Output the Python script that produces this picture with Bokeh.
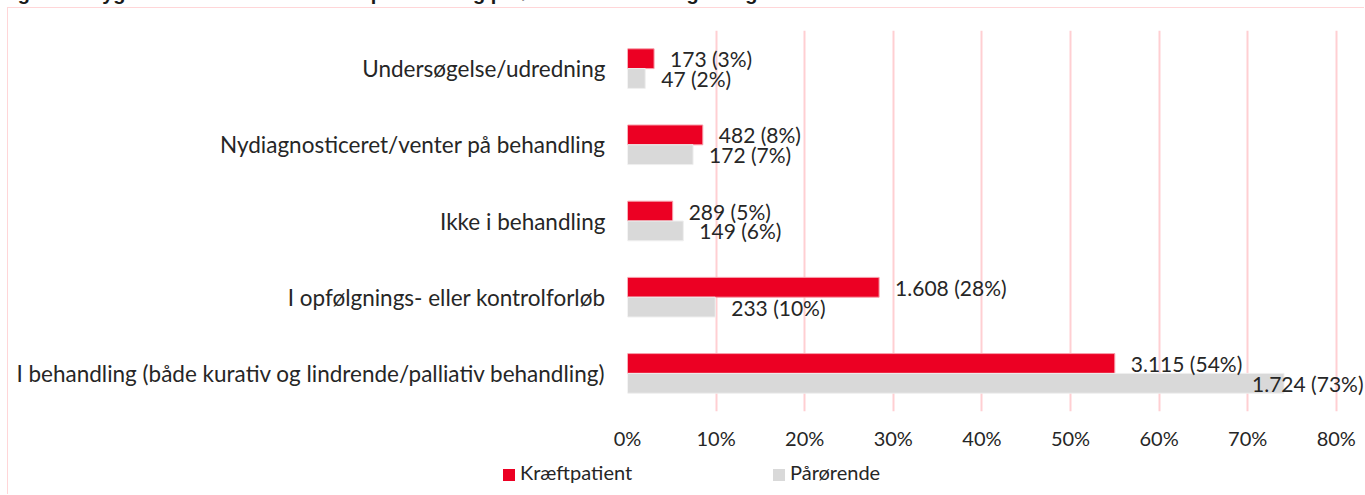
from bokeh.plotting import figure
from bokeh.models import (ColumnDataSource, FactorRange, Range1d,
                          PrintfTickFormatter, FixedTicker, Div)
from bokeh.transform import dodge
from bokeh.layouts import column
from bokeh.core.properties import value
from bokeh.embed import file_html
from bokeh.resources import INLINE

# ---- data (top to bottom as in the chart) ----
title = "Figur 12. Sygdomsstatus for hhv. kræftpatienter og pårørende i kræftrådgivningerne 2023"
categories = [
    "Undersøgelse/udredning",
    "Nydiagnosticeret/venter på behandling",
    "Ikke i behandling",
    "I opfølgnings- eller kontrolforløb",
    "I behandling (både kurativ og lindrende/palliativ behandling)",
]
patient_share = [3.0, 8.5, 5.1, 28.4, 55.0]      # bar length (%)
relative_share = [2.0, 7.4, 6.3, 9.9, 74.1]      # bar length (%)
patient_n = [173, 482, 289, 1608, 3115]
patient_pct = [3, 8, 5, 28, 54]
relative_n = [47, 172, 149, 233, 1724]
relative_pct = [2, 7, 6, 10, 73]
ticks = [0, 10, 20, 30, 40, 50, 60, 70, 80]
series_names = ["Kræftpatient", "Pårørende"]

RED = "#EC0023"
GRAY = "#D9D9D9"
TXT = "#262626"
GRID = "#FFCFD2"
EDGE = "#FFD6D8"
FONT = "Lato"

def fmt(n, pct):
    return f"{n:,}".replace(",", ".") + f" ({pct}%)"

W = 1357
H1, H2 = 447, 40
LEFT, TOP, BOTTOM = 619, 22, 44
frame_w = W - LEFT
px_per_unit = 8.86
x_end = frame_w / px_per_unit

p_labels = [fmt(n, q) for n, q in zip(patient_n, patient_pct)]
r_labels = [fmt(n, q) for n, q in zip(relative_n, relative_pct)]

def placement(vals, labels):
    xs, al, off = [], [], []
    for v, lab in zip(vals, labels):
        if v * px_per_unit + 16 + len(lab) * 10.5 > frame_w:
            xs.append(x_end); al.append("right"); off.append(-2)
        else:
            xs.append(v); al.append("left"); off.append(16)
    return xs, al, off

pxs, pal, poff = placement(patient_share, p_labels)
rxs, ral, roff = placement(relative_share, r_labels)

cats_bottom_up = categories[::-1]
src = ColumnDataSource(dict(
    cat=cats_bottom_up,
    patient=patient_share[::-1], relative=relative_share[::-1],
    plab=p_labels[::-1], rlab=r_labels[::-1],
    px=pxs[::-1], pal=pal[::-1], poff=poff[::-1],
    rx=rxs[::-1], ral=ral[::-1], roff=roff[::-1],
))

p = figure(width=W, height=H1, y_range=FactorRange(*cats_bottom_up),
           x_range=Range1d(0, x_end), output_backend="svg", toolbar_location=None,
           min_border_left=LEFT, min_border_right=0, min_border_top=TOP,
           min_border_bottom=BOTTOM, margin=(4, 0, 0, 7))
p.styles = {"border-left": f"1px solid {EDGE}", "border-top": f"1px solid {EDGE}"}

yr = dodge("cat", 0.13, range=p.y_range)
yg = dodge("cat", -0.13, range=p.y_range)
r1 = p.hbar(y=yr, left=0, right="patient", height=0.26, fill_color=RED,
            line_color="#F7A0AC", line_width=1, source=src)
r2 = p.hbar(y=yg, left=0, right="relative", height=0.26, fill_color=GRAY,
            line_color="#EFEFEF", line_width=1, source=src)

p.text(x="px", y=yr, text="plab", x_offset="poff", text_align="pal",
       text_baseline="middle", text_font=value(FONT), text_font_size="21px",
       text_color=TXT, source=src)
p.text(x="rx", y=yg, text="rlab", x_offset="roff", text_align="ral",
       text_baseline="middle", text_font=value(FONT), text_font_size="21px",
       text_color=TXT, source=src)

p.outline_line_color = None
p.ygrid.grid_line_color = None
p.xgrid.grid_line_color = GRID
p.xgrid.grid_line_width = 2
p.xgrid.ticker = FixedTicker(ticks=ticks)

p.xaxis.ticker = FixedTicker(ticks=ticks)
p.xaxis.formatter = PrintfTickFormatter(format="%d%%")
for ax in (p.xaxis[0], p.yaxis[0]):
    ax.axis_line_color = None
    ax.major_tick_line_color = None
    ax.minor_tick_line_color = None
    ax.major_tick_out = 0
    ax.major_tick_in = 0
    ax.minor_tick_out = 0
    ax.major_label_text_font = FONT
    ax.major_label_text_color = TXT
p.xaxis.major_label_text_font_size = "20px"
p.yaxis.major_label_text_font_size = "22.5px"
p.xaxis.major_label_standoff = 14
p.yaxis.major_label_standoff = 22

# ---- legend strip below the chart (HTML) ----
def legend_item(color, label, width):
    return (f'<span style="display:inline-block;width:{width}px;">'
            f'<span style="display:inline-block;width:12px;height:12px;'
            f'background:{color};margin-right:5px;vertical-align:-1px;"></span>'
            f'{label}</span>')

legend_html = (f'<div style="padding-left:495px;padding-top:6px;font-family:{FONT};'
               f'font-size:20px;line-height:24px;color:{TXT};white-space:nowrap;">'
               + legend_item(RED, series_names[0], 270)
               + legend_item(GRAY, series_names[1], 200) + '</div>')
lg = Div(text=legend_html, width=W, height=H2, margin=(0, 0, 0, 7),
         styles={"border-left": f"1px solid {EDGE}"})

head = Div(text=title, width=1300, height=20, margin=(-17, 0, 0, 0),
           styles={"font-family": "Liberation Sans", "font-weight": "bold",
                   "font-size": "20px", "line-height": "20px", "color": "#1a1a1a",
                   "white-space": "nowrap"})

layout = column(head, p, lg, spacing=0)
open("out.html", "w").write(file_html(layout, INLINE))
